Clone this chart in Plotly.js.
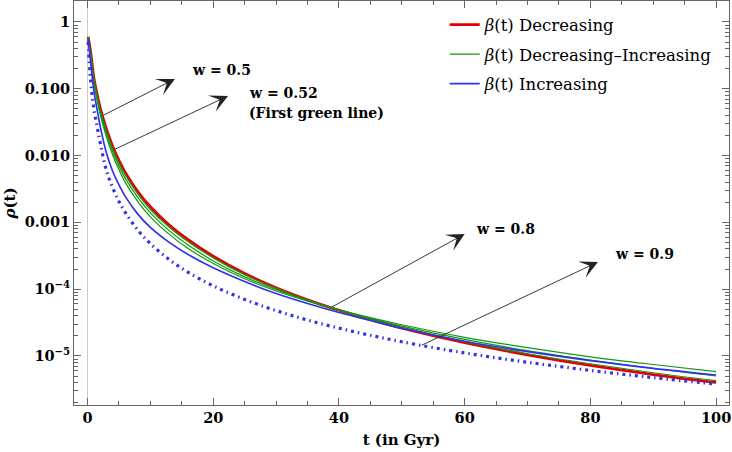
<!DOCTYPE html>
<html>
<head>
<meta charset="utf-8">
<script src="https://cdn.plot.ly/plotly-3.0.1.min.js"></script>
<style>html,body{margin:0;padding:0;background:#fff;}#chart{width:732px;height:452px;}</style>
</head>
<body>
<div id="chart"></div>
<script>
// time in Gyr
var t = [0.1, 0.5, 1, 1.5, 2, 3, 4, 5, 6, 8, 10, 13, 16, 20, 25, 30, 35, 40, 45, 50, 60, 70, 80, 90, 100];

// beta(t) decreasing (w = 0.5)
var rhoDecreasing = [0.603, 0.355, 0.148, 0.0851, 0.0525, 0.0251, 0.0138, 0.00845, 0.00561, 0.00290, 0.00171, 0.000914, 0.000550, 0.000311, 0.000172, 0.000105, 6.93e-5, 4.83e-5, 3.49e-5, 2.61e-5, 1.58e-5, 1.04e-5, 7.21e-6, 5.27e-6, 4.01e-6];

// beta(t) decreasing-increasing (three green lines)
var rhoDecIncA = [0.575, 0.316, 0.126, 0.0708, 0.0417, 0.0191, 0.0102, 0.00612, 0.00397, 0.00205, 0.00121, 0.000662, 0.000407, 0.000242, 0.000143, 9.38e-5, 6.62e-5, 4.94e-5, 3.74e-5, 2.93e-5, 1.90e-5, 1.33e-5, 9.72e-6, 7.45e-6, 5.82e-6];
var rhoDecIncB = [0.582, 0.331, 0.133, 0.0759, 0.0457, 0.0211, 0.0115, 0.00695, 0.00456, 0.00236, 0.00139, 0.000752, 0.000457, 0.000265, 0.000153, 9.82e-5, 6.78e-5, 4.89e-5, 3.66e-5, 2.80e-5, 1.77e-5, 1.20e-5, 8.67e-6, 6.49e-6, 5.01e-6];
var rhoDecIncC = [0.596, 0.347, 0.143, 0.0813, 0.0495, 0.0234, 0.0127, 0.00771, 0.00512, 0.00264, 0.00156, 0.000843, 0.000513, 0.000294, 0.000164, 0.000103, 6.86e-5, 4.83e-5, 3.53e-5, 2.67e-5, 1.64e-5, 1.08e-5, 7.64e-6, 5.61e-6, 4.27e-6];

// beta(t) increasing (solid) and dash-dot line
var rhoIncreasing = [0.550, 0.251, 0.0955, 0.0501, 0.0282, 0.0110, 0.00582, 0.00363, 0.00245, 0.00133, 0.000841, 0.000501, 0.000331, 0.000209, 0.000130, 8.61e-5, 6.10e-5, 4.47e-5, 3.39e-5, 2.60e-5, 1.66e-5, 1.16e-5, 8.51e-6, 6.53e-6, 5.19e-6];
var rhoIncreasingDash = [0.501, 0.132, 0.0501, 0.0282, 0.0158, 0.00603, 0.00330, 0.00206, 0.00141, 0.000767, 0.000481, 0.000277, 0.000179, 0.000112, 7.02e-5, 4.78e-5, 3.45e-5, 2.61e-5, 2.04e-5, 1.63e-5, 1.11e-5, 8.05e-6, 6.08e-6, 4.74e-6, 3.80e-6];

var legendNames = ['<i>β</i>(t) Decreasing', '<i>β</i>(t) Decreasing\u2013Increasing', '<i>β</i>(t) Increasing'];

var yTickVals = [1, 0.1, 0.01, 0.001, 1e-4, 1e-5];
var yTickText = ['1', '0.100', '0.010', '0.001', '10<sup>\u22124</sup>', '10<sup>\u22125</sup>'];
var xTickVals = [0, 20, 40, 60, 80, 100];

// annotation labels
var labelText = ['w = 0.5', 'w = 0.52', '(First green line)', 'w = 0.8', 'w = 0.9'];
var labelT = [16.3, 25.3, 25.3, 61.5, 83.6];
var labelRho = [0.191, 0.0875, 0.0430, 7.96e-4, 3.37e-4];

// arrows: tail (on curve) -> head
var arrowTailT = [2.31, 4.1, 38.6, 52.9];
var arrowTailRho = [0.0392, 0.0121, 5.24e-5, 1.41e-5];
var arrowHeadT = [13.9, 22.35, 60.0, 81.2];
var arrowHeadRho = [0.140, 0.078, 6.7e-4, 2.55e-4];

var SERIF = 'DejaVu Serif';
var GREEN = 'rgb(20,150,20)';
var BLUE = 'rgb(50,50,235)';
var RED = 'rgb(228,0,0)';
var FRAME = '#666';

var traces = [
  {x: t, y: rhoDecreasing, mode: 'lines', line: {color: RED, width: 2.8, shape: 'spline'}, name: legendNames[0], legendgroup: 'a'},
  {x: t, y: rhoDecIncC, mode: 'lines', line: {color: GREEN, width: 1.2, shape: 'spline'}, name: legendNames[1], legendgroup: 'b'},
  {x: t, y: rhoDecIncB, mode: 'lines', line: {color: GREEN, width: 1.2, shape: 'spline'}, showlegend: false},
  {x: t, y: rhoDecIncA, mode: 'lines', line: {color: GREEN, width: 1.2, shape: 'spline'}, showlegend: false},
  {x: t, y: rhoIncreasing, mode: 'lines', line: {color: BLUE, width: 1.7, shape: 'spline'}, name: legendNames[2], legendgroup: 'c'},
  {x: t, y: rhoIncreasingDash, mode: 'lines', line: {color: BLUE, width: 3.2, shape: 'spline', dash: '3px,4px,1.5px,4px'}, showlegend: false},
  // carrier for the minor-tick overlay axes
  {x: [50], y: [1e-3], xaxis: 'x2', yaxis: 'y2', mode: 'markers', marker: {opacity: 0}, showlegend: false, hoverinfo: 'skip'}
];

var minorY = [];
for (var d = -6; d <= 0; d++) {
  for (var k = 2; k <= 9; k++) minorY.push(k * Math.pow(10, d));
}
var minorX = [];
for (var m = 5; m < 100; m += 5) { if (m % 20 !== 0) minorX.push(m); }

var annotations = [];
for (var i = 0; i < arrowTailT.length; i++) {
  annotations.push({
    x: arrowHeadT[i], y: Math.log10(arrowHeadRho[i]),
    ax: arrowTailT[i], ay: Math.log10(arrowTailRho[i]),
    xref: 'x', yref: 'y', axref: 'x', ayref: 'y',
    text: '', showarrow: true, arrowhead: 3, arrowsize: 3.3, arrowwidth: 0.9,
    arrowcolor: '#222', standoff: 0, startstandoff: 0
  });
}
for (var j = 0; j < labelText.length; j++) {
  annotations.push({
    x: labelT[j], y: Math.log10(labelRho[j]), xref: 'x', yref: 'y',
    text: '<b>' + labelText[j] + '</b>', showarrow: false,
    xanchor: 'left', yanchor: 'middle',
    font: {family: SERIF, size: 14, color: '#000'}
  });
}

var axisCommon = {
  showline: true, linecolor: FRAME, linewidth: 1, mirror: 'ticks',
  ticks: 'inside', ticklen: 7, tickcolor: FRAME, tickwidth: 1,
  showgrid: false,
  tickfont: {family: SERIF, size: 14.5, color: '#000', weight: 'bold'}
};

var xRange = [-2.15, 102.05];
var yRange = [-5.734, 0.314];

var layout = {
  width: 732, height: 452,
  margin: {l: 74, r: 3, t: 1, b: 47},
  paper_bgcolor: '#fff', plot_bgcolor: '#fff',
  showlegend: true,
  legend: {x: 0.566, y: 0.984, xanchor: 'left', yanchor: 'top', bgcolor: 'rgba(0,0,0,0)',
           font: {family: SERIF, size: 16.5, color: '#000'}, tracegroupgap: 5},
  xaxis: Object.assign({}, axisCommon, {
    range: xRange, tickmode: 'array', tickvals: xTickVals,
    zeroline: true, zerolinecolor: '#ccc', zerolinewidth: 1,
    title: {text: '<b>t (in Gyr)</b>', font: {family: SERIF, size: 15, color: '#000'}, standoff: 9}
  }),
  yaxis: Object.assign({}, axisCommon, {
    type: 'log', range: yRange, tickmode: 'array', tickvals: yTickVals, ticktext: yTickText,
    zeroline: false,
    title: {text: '<b><i>ρ</i>(t)</b>', font: {family: SERIF, size: 15, color: '#000'}, standoff: 5}
  }),
  xaxis2: {
    overlaying: 'x', anchor: 'y2', range: xRange, tickmode: 'array', tickvals: minorX,
    ticks: 'inside', ticklen: 4, tickcolor: FRAME, tickwidth: 1, mirror: 'ticks',
    showline: false, showgrid: false, zeroline: false, showticklabels: false
  },
  yaxis2: {
    overlaying: 'y', anchor: 'x2', type: 'log', range: yRange, tickmode: 'array', tickvals: minorY,
    ticks: 'inside', ticklen: 4, tickcolor: FRAME, tickwidth: 1, mirror: 'ticks',
    showline: false, showgrid: false, zeroline: false, showticklabels: false
  },
  annotations: annotations
};

Plotly.newPlot('chart', traces, layout, {displayModeBar: false, staticPlot: true});
</script>
</body>
</html>
